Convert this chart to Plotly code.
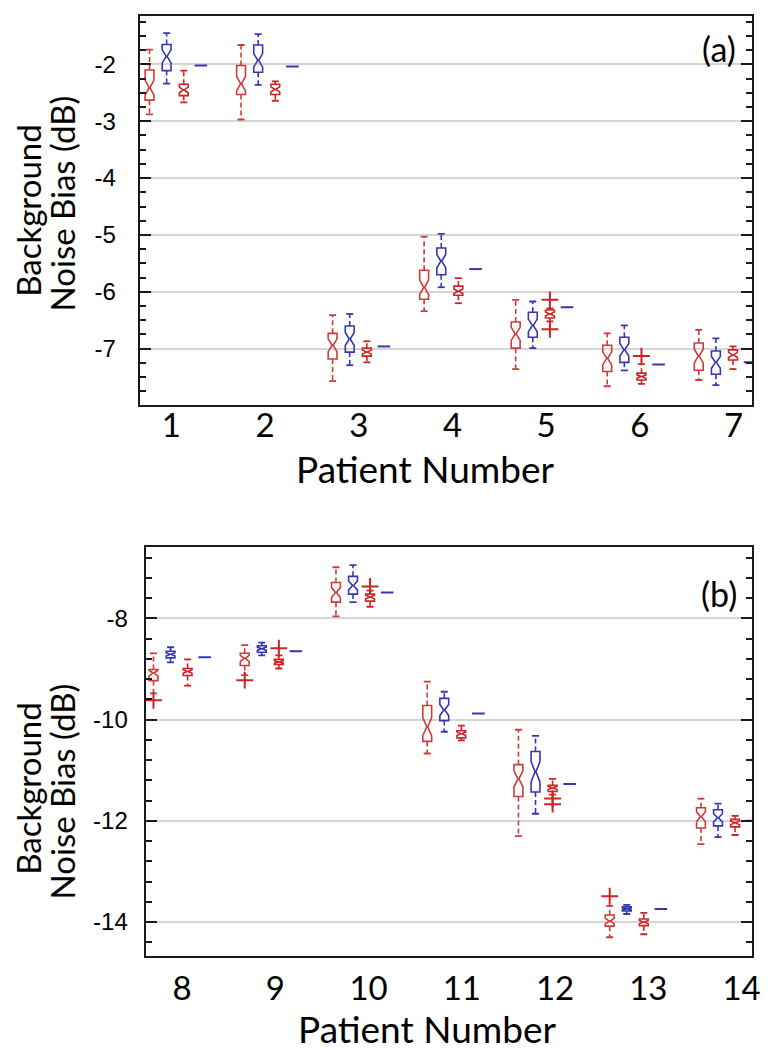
import plotly.graph_objects as go

# ---------------- data ----------------
PATIENTS_A = ["1", "2", "3", "4", "5", "6", "7"]
PATIENTS_B = ["8", "9", "10", "11", "12", "13", "14"]
YTICKS_A = [-7, -6, -5, -4, -3, -2]
YTICKS_B = [-14, -12, -10, -8]

# each entry: (upper whisker, Q3, median, Q1, lower whisker)
A_RED = [(-1.74, -2.10, -2.41, -2.63, -2.88),
         (-1.66, -2.02, -2.34, -2.53, -2.97),
         (-6.41, -6.73, -6.94, -7.18, -7.57),
         (-5.03, -5.62, -5.92, -6.13, -6.34),
         (-6.14, -6.53, -6.74, -6.99, -7.36),
         (-6.73, -6.94, -7.17, -7.40, -7.66),
         (-6.67, -6.90, -7.13, -7.38, -7.55)]
A_BLUE = [(-1.45, -1.65, -1.86, -2.11, -2.34),
          (-1.47, -1.66, -1.93, -2.14, -2.36),
          (-6.39, -6.60, -6.83, -7.06, -7.29),
          (-4.98, -5.23, -5.46, -5.70, -5.92),
          (-6.17, -6.36, -6.59, -6.80, -6.99),
          (-6.59, -6.80, -7.02, -7.24, -7.38),
          (-6.82, -7.04, -7.24, -7.45, -7.64)]
A_RED_SMALL = [(-2.11, -2.35, -2.45, -2.55, -2.67),
               (-2.30, -2.35, -2.44, -2.53, -2.64),
               (-6.87, -6.99, -7.06, -7.13, -7.24),
               (-5.76, -5.90, -5.99, -6.06, -6.20),
               (-6.29, -6.32, -6.39, -6.46, -6.52),
               (-7.27, -7.43, -7.49, -7.55, -7.62),
               (-6.96, -7.02, -7.11, -7.20, -7.36)]
A_BLUE_SINGLE = [-2.02, -2.04, -6.96, -5.60, -6.27, -7.28, -7.24]
A_OUT_PATIENT = ["5", "5", "6"]
A_OUT_GROUP = [2, 2, 2]
A_OUT_VALUE = [-6.14, -6.66, -7.13]

B_RED = [(-8.69, -9.01, -9.08, -9.23, -9.48),
         (-8.53, -8.69, -8.79, -8.93, -9.12),
         (-6.99, -7.29, -7.49, -7.68, -7.96),
         (-9.25, -9.72, -10.14, -10.43, -10.67),
         (-10.20, -10.89, -11.17, -11.52, -12.30),
         (-13.68, -13.86, -13.98, -14.08, -14.30),
         (-11.56, -11.74, -11.92, -12.14, -12.46)]
B_BLUE = [(-8.57, -8.65, -8.71, -8.78, -8.87),
          (-8.48, -8.54, -8.60, -8.67, -8.73),
          (-6.95, -7.17, -7.35, -7.52, -7.68),
          (-9.45, -9.58, -9.81, -10.02, -10.24),
          (-10.32, -10.63, -11.03, -11.43, -11.86),
          (-13.66, -13.70, -13.74, -13.78, -13.84),
          (-11.66, -11.78, -11.94, -12.10, -12.32)]
B_RED_SMALL = [(-8.81, -8.99, -9.05, -9.13, -9.33),
               (-8.73, -8.81, -8.86, -8.91, -8.99),
               (-7.45, -7.52, -7.58, -7.66, -7.77),
               (-10.12, -10.22, -10.28, -10.36, -10.41),
               (-11.17, -11.30, -11.35, -11.42, -11.48),
               (-13.82, -13.94, -14.00, -14.07, -14.24),
               (-11.90, -11.97, -12.04, -12.12, -12.28)]
B_BLUE_SINGLE = [-8.77, -8.65, -7.49, -9.88, -11.27, -13.74, -12.00]
B_OUT_PATIENT = ["8", "9", "9", "10", "12", "12", "13"]
B_OUT_GROUP = [0, 0, 2, 2, 2, 2, 0]
B_OUT_VALUE = [-9.62, -9.22, -8.59, -7.37, -11.56, -11.67, -13.49]

# ---------------- style ----------------
RED = "#cf3a3a"
RED_DARK = "#cc2424"
BLUE = "#3636b2"
GROUP_STEP = 0.187
BOX_W = 0.097
NOTCH_FRAC = 0.25
W, H = 772, 1050

fig = go.Figure()


def add_panel(xa, ya, patients, groups, single, out_p, out_g, out_v):
    colors = [RED, BLUE, RED_DARK]
    for k, stats in enumerate(groups):
        xs = [i + k * GROUP_STEP for i in range(len(patients))]
        up = [s[0] for s in stats]
        q3 = [s[1] for s in stats]
        med = [s[2] for s in stats]
        q1 = [s[3] for s in stats]
        lo = [s[4] for s in stats]
        # box body with notch (whiskers drawn separately, dashed)
        fig.add_trace(go.Box(
            x=xs, q1=q1, median=med, q3=q3, lowerfence=q1, upperfence=q3,
            notched=True,
            notchspan=[NOTCH_FRAC * (a - b) for a, b in zip(q3, q1)],
            notchwidth=0.45, width=BOX_W, whiskerwidth=0,
            line=dict(color=colors[k], width=1.6), fillcolor="rgba(0,0,0,0)",
            boxpoints=False, showlegend=False, hoverinfo="skip",
            xaxis=xa, yaxis=ya))
        wx, wy = [], []
        for x, u, a, b, l in zip(xs, up, q3, q1, lo):
            wx += [x, x, None, x, x, None]
            wy += [a, u, None, b, l, None]
        fig.add_trace(go.Scatter(
            x=wx, y=wy, mode="lines", showlegend=False, hoverinfo="skip",
            line=dict(color=colors[k], width=1.6, dash="5px,3px"),
            xaxis=xa, yaxis=ya))
        fig.add_trace(go.Scatter(
            x=xs + xs, y=up + lo, mode="markers", showlegend=False,
            hoverinfo="skip",
            marker=dict(symbol="line-ew", size=5,
                        line=dict(width=1.8, color=colors[k])),
            xaxis=xa, yaxis=ya))
    xs = [i + 3 * GROUP_STEP for i in range(len(patients))]
    fig.add_trace(go.Scatter(
        x=xs, y=single, mode="markers", showlegend=False, hoverinfo="skip",
        marker=dict(symbol="line-ew", size=9, line=dict(width=2, color=BLUE)),
        xaxis=xa, yaxis=ya))
    ox = [patients.index(p) + g * GROUP_STEP for p, g in zip(out_p, out_g)]
    fig.add_trace(go.Scatter(
        x=ox, y=out_v, mode="markers", showlegend=False, hoverinfo="skip",
        marker=dict(symbol="cross-thin", size=12,
                    line=dict(width=2, color=RED_DARK)),
        xaxis=xa, yaxis=ya))


add_panel("x", "y", PATIENTS_A, [A_RED, A_BLUE, A_RED_SMALL], A_BLUE_SINGLE,
          A_OUT_PATIENT, A_OUT_GROUP, A_OUT_VALUE)
add_panel("x2", "y2", PATIENTS_B, [B_RED, B_BLUE, B_RED_SMALL], B_BLUE_SINGLE,
          B_OUT_PATIENT, B_OUT_GROUP, B_OUT_VALUE)

TICK_FONT = dict(family="Liberation Sans, Arial", size=24, color="black")
XLAB_FONT = dict(family="Lato, Calibri", size=33, color="black")
TITLE_FONT = dict(family="Lato, Calibri", size=37, color="black")
YTITLE_FONT = dict(family="Lato, Calibri", size=33, color="black")
PANEL_FONT = dict(family="Lato, Calibri", size=34, color="black")


def xaxis(domain, rng, anchor, patients, off, step, standoff):
    return dict(domain=domain, range=rng, anchor=anchor, showline=True,
                mirror=True, linecolor="#1a1a1a", linewidth=2, showgrid=False,
                zeroline=False, ticks="",
                tickvals=[off + i * step for i in range(len(patients))],
                ticktext=patients, tickfont=XLAB_FONT,
                ticklabelstandoff=standoff)


def yaxis(domain, rng, anchor, ticks, minor, standoff):
    return dict(domain=domain, range=rng, anchor=anchor, showline=True,
                mirror="allticks", linecolor="#1a1a1a", linewidth=2,
                showgrid=True, gridcolor="#d6d6d6", gridwidth=2,
                zeroline=False, tickvals=ticks,
                ticktext=[str(v) for v in ticks], ticks="inside",
                ticklen=11, tickwidth=2, tickcolor="#1a1a1a",
                tickfont=TICK_FONT, ticklabelstandoff=standoff,
                minor=dict(dtick=minor, tick0=0, ticks="inside", ticklen=6,
                           tickwidth=1.5, tickcolor="#1a1a1a", showgrid=False))


fig.update_layout(
    width=W, height=H, margin=dict(l=0, r=0, t=0, b=0),
    paper_bgcolor="white", plot_bgcolor="white", boxmode="overlay",
    xaxis=xaxis([133 / W, 752 / W], [-10 / 92.5, 609 / 92.5], "y",
                PATIENTS_A, 22 / 92.5, 94.7 / 92.5, -10),
    yaxis=yaxis([1 - 397 / H, 1 - 8 / H], [-7.99, -1.15], "x",
                YTICKS_A, 0.25, 17),
    xaxis2=xaxis([139 / W, 752 / W], [-8 / 92.2, 605 / 92.2], "y2",
                 PATIENTS_B, 29 / 92.2, 94.2 / 92.2, 2),
    yaxis2=yaxis([1 - 948 / H, 1 - 539 / H], [-14.67, -6.59], "x2",
                 YTICKS_B, 0.4, 11),
)

ann = [
    dict(text="Background", x=20 / W, y=1 - 202 / H, textangle=-90,
         font=YTITLE_FONT),
    dict(text="Noise Bias (dB)", x=55 / W, y=1 - 195 / H, textangle=-90,
         font=YTITLE_FONT),
    dict(text="Background", x=20 / W, y=1 - 780 / H, textangle=-90,
         font=YTITLE_FONT),
    dict(text="Noise Bias (dB)", x=55 / W, y=1 - 783 / H, textangle=-90,
         font=YTITLE_FONT),
    dict(text="Patient Number", x=421 / W, y=1 - 461 / H, font=TITLE_FONT),
    dict(text="Patient Number", x=423 / W, y=1 - 1020 / H, font=TITLE_FONT),
    dict(text="(a)", x=718 / W, y=1 - 41 / H, font=PANEL_FONT),
    dict(text="(b)", x=718 / W, y=1 - 585 / H, font=PANEL_FONT),
]
for a in ann:
    fig.add_annotation(xref="paper", yref="paper", showarrow=False,
                       xanchor="center", yanchor="middle", **a)

fig.write_html("out.html")
